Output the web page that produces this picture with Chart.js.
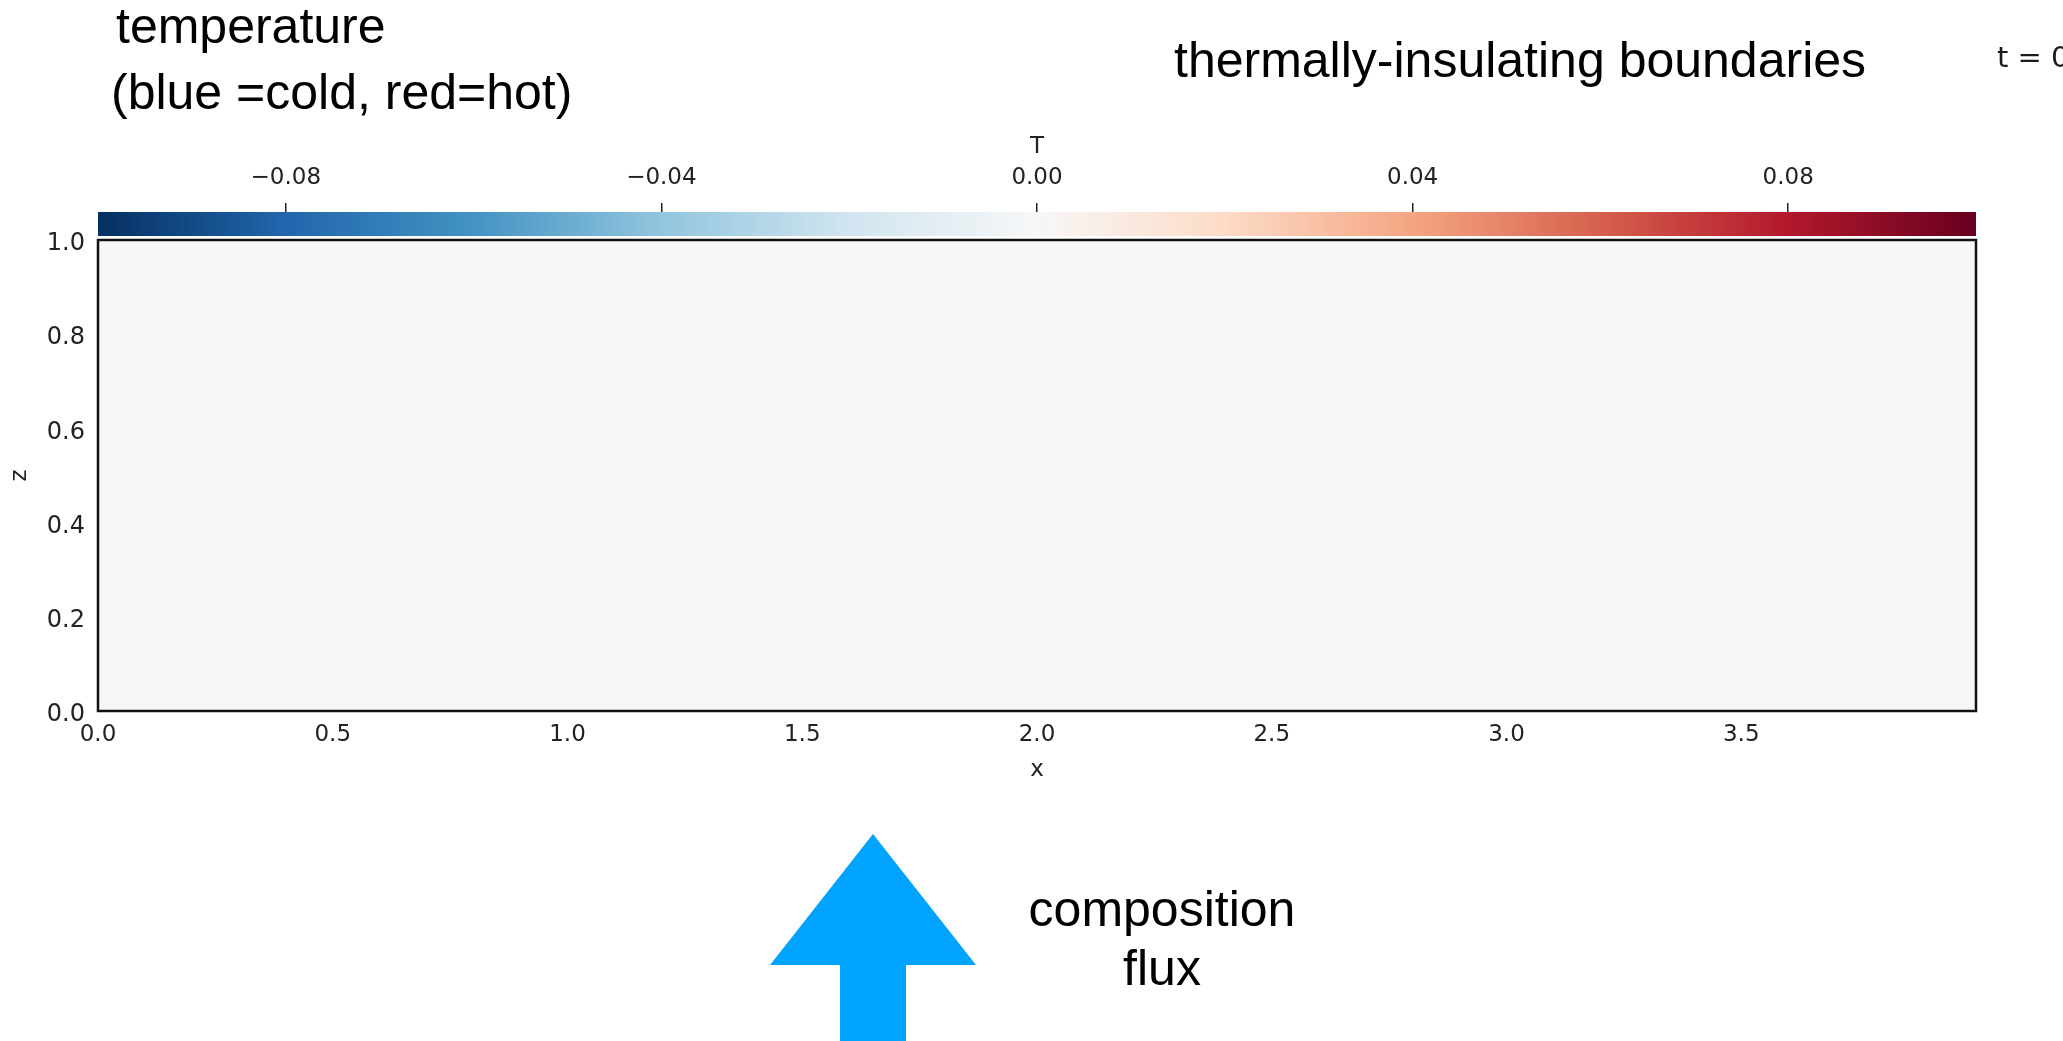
<!DOCTYPE html>
<html>
<head>
<meta charset="utf-8">
<title>T field</title>
<script src="https://cdn.jsdelivr.net/npm/chart.js"></script>
<style>
  html, body { margin: 0; padding: 0; background: #ffffff; }
  #wrap { position: relative; width: 2063px; height: 1041px; overflow: hidden; }
</style>
</head>
<body>
<div id="wrap"><canvas id="field" width="2063" height="1041"></canvas></div>
<script>
// axis ticks
const xTicks = [0, 0.5, 1.0, 1.5, 2.0, 2.5, 3.0, 3.5];
const zTicks = [0, 0.2, 0.4, 0.6, 0.8, 1.0];
const cbTicks = [-0.08, -0.04, 0, 0.04, 0.08];

// domain and colour range
const xRange = [0, 4];
const zRange = [0, 1];
const tRange = [-0.1, 0.1];

// temperature field at t = 0 (uniform, T = 0 across the box)
const fieldX = [0, 4];
const fieldZ = [1, 1];
const fieldT = 0;

// RdBu_r, cold -> hot
const rdbuR = ["#053061", "#2166ac", "#4393c3", "#92c5de", "#d1e5f0", "#f7f7f7",
               "#fddbc7", "#f4a582", "#d6604d", "#b2182b", "#67001f"];

const TICK_FONT = { family: "'DejaVu Sans', sans-serif", size: 23 };
const INK = "#222222";
const NOTE_FONT = "50px 'Liberation Sans', Arial, Helvetica, sans-serif";

function hexToRgb(h) {
  const n = parseInt(h.slice(1), 16);
  return [(n >> 16) & 255, (n >> 8) & 255, n & 255];
}

function colormap(v) {
  let t = (v - tRange[0]) / (tRange[1] - tRange[0]);
  t = Math.min(1, Math.max(0, t)) * (rdbuR.length - 1);
  const i = Math.min(rdbuR.length - 2, Math.floor(t));
  const f = t - i;
  const a = hexToRgb(rdbuR[i]), b = hexToRgb(rdbuR[i + 1]);
  const c = a.map((av, k) => Math.round(av + (b[k] - av) * f));
  return `rgb(${c[0]}, ${c[1]}, ${c[2]})`;
}

function fmtCb(v) {
  if (Math.abs(v) < 1e-12) return "0.00";
  return (v < 0 ? "\u2212" : "") + Math.abs(v).toFixed(2);
}

// colour bar sits in the top axis band, plus the frame round the field
const colorbarPlugin = {
  id: "colorbar",
  afterDraw(chart) {
    const { ctx, chartArea } = chart;
    const cb = chart.scales.cb;
    const barBottom = chartArea.top - 4;
    const barTop = barBottom - 24;

    ctx.save();
    ctx.fillStyle = "#ffffff";
    ctx.fillRect(cb.left - 2, barTop, cb.right - cb.left + 4, chartArea.top - barTop);

    const grad = ctx.createLinearGradient(cb.left, 0, cb.right, 0);
    rdbuR.forEach((c, i) => grad.addColorStop(i / (rdbuR.length - 1), c));
    ctx.fillStyle = grad;
    ctx.fillRect(cb.left, barTop, cb.right - cb.left, barBottom - barTop);

    ctx.strokeStyle = "#111111";
    ctx.lineWidth = 2.5;
    ctx.strokeRect(chartArea.left, chartArea.top, chartArea.right - chartArea.left, chartArea.bottom - chartArea.top);
    ctx.restore();
  }
};

// slide annotations: headings, time stamp and the flux arrow
const notesPlugin = {
  id: "notes",
  afterDraw(chart) {
    const ctx = chart.ctx;
    ctx.save();
    ctx.fillStyle = "#000000";
    ctx.textBaseline = "alphabetic";
    ctx.font = NOTE_FONT;
    ctx.textAlign = "left";
    ctx.fillText("temperature", 116, 43);
    ctx.fillText("(blue =cold, red=hot)", 111, 109);
    ctx.fillText("thermally-insulating boundaries", 1174, 77);
    ctx.textAlign = "center";
    ctx.fillText("composition", 1162, 926);
    ctx.fillText("flux", 1162, 985);

    ctx.textAlign = "left";
    ctx.fillStyle = "#1a1a1a";
    ctx.font = "29px 'DejaVu Sans', sans-serif";
    ctx.fillText("t = 0.00", 1997, 67);

    ctx.fillStyle = "#00a3ff";
    ctx.beginPath();
    ctx.moveTo(873, 834);
    ctx.lineTo(976, 965);
    ctx.lineTo(906, 965);
    ctx.lineTo(906, 1041);
    ctx.lineTo(840, 1041);
    ctx.lineTo(840, 965);
    ctx.lineTo(770, 965);
    ctx.closePath();
    ctx.fill();
    ctx.restore();
  }
};

const setTicks = (values) => (axis) => { axis.ticks = values.map(value => ({ value })); };

new Chart(document.getElementById("field").getContext("2d"), {
  type: "line",
  data: {
    datasets: [{
      label: "T",
      data: fieldX.map((x, i) => ({ x, y: fieldZ[i] })),
      backgroundColor: colormap(fieldT),
      borderWidth: 0,
      pointRadius: 0,
      fill: "origin"
    }]
  },
  options: {
    responsive: false,
    animation: false,
    events: [],
    layout: { padding: { top: 103, left: 0, right: 87, bottom: 250 } },
    plugins: { legend: { display: false }, tooltip: { enabled: false } },
    scales: {
      x: {
        type: "linear",
        position: "bottom",
        min: xRange[0],
        max: xRange[1],
        afterBuildTicks: setTicks(xTicks),
        afterFit: (s) => { s.height = 80; },
        grid: { display: false, drawTicks: false, tickLength: 0 },
        border: { display: false },
        ticks: { padding: 10, autoSkip: false, maxRotation: 0, font: TICK_FONT, color: INK,
                 callback: (v) => Number(v).toFixed(1) },
        title: { display: true, text: "x", font: TICK_FONT, color: INK, padding: { top: 0, bottom: 7 } }
      },
      y: {
        type: "linear",
        position: "left",
        min: zRange[0],
        max: zRange[1],
        afterBuildTicks: setTicks(zTicks),
        afterFit: (s) => { s.width = 98; },
        grid: { display: false, drawTicks: false, tickLength: 0 },
        border: { display: false },
        ticks: { padding: 13, labelOffset: 4, autoSkip: false, font: { family: TICK_FONT.family, size: 24 }, color: INK,
                 callback: (v) => Number(v).toFixed(1) },
        title: { display: true, text: "z", font: TICK_FONT, color: INK, padding: { top: 6, bottom: 0 } }
      },
      cb: {
        type: "linear",
        position: "top",
        min: tRange[0],
        max: tRange[1],
        afterBuildTicks: setTicks(cbTicks),
        afterFit: (s) => { s.height = 137; },
        grid: { display: true, drawOnChartArea: false, drawTicks: true, tickLength: 37, color: INK, lineWidth: 1.5 },
        border: { display: false },
        ticks: { padding: 11, autoSkip: false, maxRotation: 0, font: TICK_FONT, color: INK, callback: fmtCb },
        title: { display: true, text: "T", font: TICK_FONT, color: INK, padding: { top: 30, bottom: 0 } }
      }
    }
  },
  plugins: [colorbarPlugin, notesPlugin]
});
</script>
</body>
</html>
